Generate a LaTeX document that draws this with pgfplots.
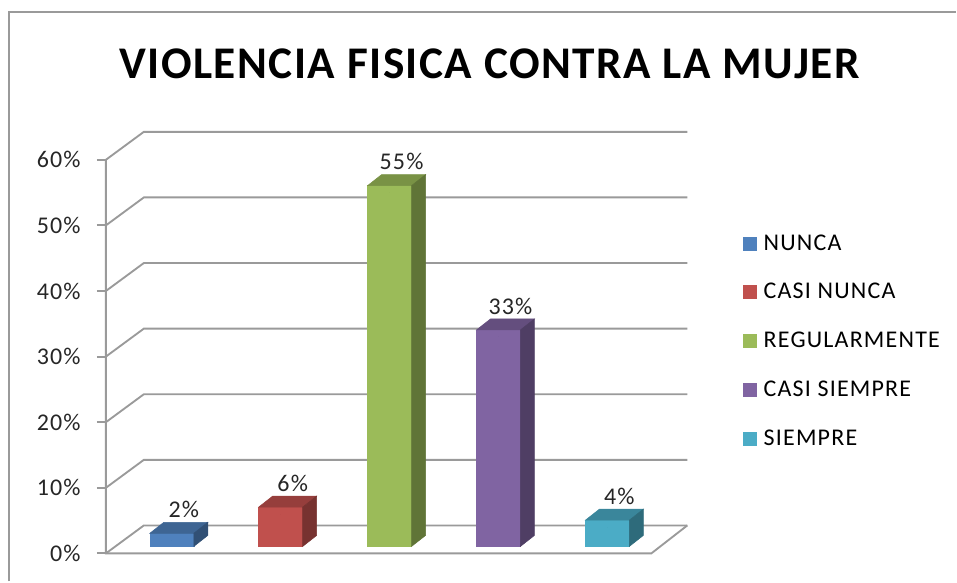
\documentclass[border=0pt]{standalone}
\usepackage{fontspec}
\setmainfont{Carlito}[LetterSpace=5]
\newfontfamily\titlefont{Carlito}[LetterSpace=3.3]
\usepackage{pgfplots}
\pgfplotsset{compat=1.18}

\definecolor{gridc}{HTML}{9A9A9A}
\definecolor{cA}{HTML}{4F81BD}
\definecolor{cB}{HTML}{C0504D}
\definecolor{cC}{HTML}{9BBB59}
\definecolor{cD}{HTML}{8064A2}
\definecolor{cE}{HTML}{4BACC6}

% one 3D column per series: front face from the data value, plus top and side
\pgfplotsset{
  bar3d/.style={
    only marks, scatter, mark=*, mark size=0pt,
    mark options={draw=none,fill=none},
    point meta min=0, point meta max=100,
    visualization depends on={rawy \as \val},
    scatter/@pre marker code/.code={
      \pgfmathsetlengthmacro\yb{5.25pt-\val*4.925pt}
      \pgfmathsetlengthmacro\ybb{13.5pt-\val*4.925pt}
      \fill[#1] (-16.5pt,\yb) rectangle (16.5pt,5.25pt);
      \fill[#1!78!black] (-16.5pt,5.25pt) -- (16.5pt,5.25pt) -- (27pt,13.5pt) -- (-6pt,13.5pt) -- cycle;
      \fill[#1!62!black] (16.5pt,\yb) -- (27pt,\ybb) -- (27pt,13.5pt) -- (16.5pt,5.25pt) -- cycle;
      \node[anchor=base, inner sep=0pt, font=\fontsize{18}{20}\selectfont, text=black!85]
        at (9pt,17pt) {\pgfmathprintnumber[fixed,precision=0,assume math mode=true]{\val}\%};
    },
    scatter/@post marker code/.code={},
    legend image code/.code={\fill[#1] (0pt,-4.9pt) rectangle (9.75pt,4.9pt);},
  }
}

\begin{document}
\begin{tikzpicture}
\begin{axis}[
  scale only axis,
  width=717.75pt, height=436.5pt,
  xmin=0, xmax=957,
  ymin=-4.264, ymax=84.36,
  hide axis,
  clip=false,
  legend cell align=left,
  legend style={
    at={(axis cs:740,32.4)}, anchor=west,
    draw=none, fill=none,
    font=\fontsize{18}{20}\selectfont,
    row sep=21.6pt,
    nodes={inner sep=0pt, text height=12.5pt, text depth=2.5pt},
    /tikz/every odd column/.append style={column sep=5pt},
  },
]
\path (rel axis cs:0,0) rectangle (rel axis cs:1,1);

% outer frame
\draw[gridc, line width=1.5pt] (axis cs:9,-4.264) -- (axis cs:9,82.53) -- (axis cs:957,82.53);

% back wall grid, floor and value axis
\pgfplotsinvokeforeach{0,10,...,60}{
  \draw[gridc, line width=1.4pt] (axis cs:106,#1) -- ([xshift=28.5pt,yshift=21pt]axis cs:106,#1)
    -- ([yshift=21pt]axis cs:688,#1);
  \draw[gridc, line width=1.4pt] (axis cs:97,#1) -- (axis cs:106,#1);
  \node[anchor=east, inner sep=0pt, font=\fontsize{18}{20}\selectfont, text=black!85]
    at (axis cs:81,#1) {#1\%};
}
\draw[gridc, line width=1.4pt] (axis cs:106,60) -- (axis cs:106,0) -- (axis cs:652,0)
  -- ([xshift=27pt,yshift=21pt]axis cs:652,0);

\node[font=\titlefont\fontsize{34}{40}\bfseries\selectfont] at (axis cs:490,74.6)
  {VIOLENCIA FISICA CONTRA LA MUJER};

\addplot[bar3d=cA] coordinates {(172,2)};
\addlegendentry{NUNCA}
\addplot[bar3d=cB] coordinates {(281,6)};
\addlegendentry{CASI NUNCA}
\addplot[bar3d=cC] coordinates {(390,55)};
\addlegendentry{REGULARMENTE}
\addplot[bar3d=cD] coordinates {(499,33)};
\addlegendentry{CASI SIEMPRE}
\addplot[bar3d=cE] coordinates {(608,4)};
\addlegendentry{SIEMPRE}
\end{axis}
\end{tikzpicture}
\end{document}
